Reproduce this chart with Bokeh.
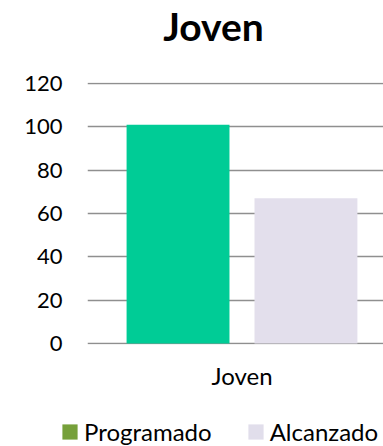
from bokeh.plotting import figure
from bokeh.models import ColumnDataSource, Legend, LegendItem, Range1d, Label, FixedTicker
from bokeh.layouts import column
from bokeh.transform import dodge
from bokeh.embed import file_html
from bokeh.resources import INLINE

title_text = "Joven"
categories = ["Joven"]
series = ["Programado", "Alcanzado"]
programado = [101]
alcanzado = [67]
y_ticks = [0, 20, 40, 60, 80, 100, 120]

bar_colors = ["#00CC96", "#E3DFEC"]
legend_colors = ["#76A03A", "#E1DEEB"]
FONT = "Lato"
W = 383

# ---- title strip ----
t = figure(width=W, height=52, x_range=Range1d(0, W), y_range=Range1d(0, 52),
           output_backend="svg", toolbar_location=None, min_border=0,
           x_axis_location=None, y_axis_location=None, frame_align=False)
t.grid.visible = False
t.outline_line_color = None
t.add_layout(Label(x=213, y=26.5, text=title_text, text_align="center", text_baseline="middle",
                   text_font=FONT, text_font_size="39px", text_font_style="bold",
                   text_color="#000000"))

# ---- main chart ----
xs = list(range(len(categories)))
src = ColumnDataSource(dict(x=xs, Programado=programado, Alcanzado=alcanzado))

p = figure(x_range=Range1d(-0.5, 0.458), y_range=Range1d(-0.5, 120.5), width=W, height=348,
           output_backend="svg", toolbar_location=None, frame_align=False,
           min_border_left=87, min_border_right=0, min_border_top=30, min_border_bottom=56)

offsets = [-0.207, 0.207]
for s, off, c in zip(series, offsets, bar_colors):
    p.vbar(x=dodge("x", off), top=s, width=0.333, source=src,
           fill_color=c, line_color=None)

p.xaxis.ticker = FixedTicker(ticks=xs)
p.xaxis.major_label_overrides = {i: c for i, c in zip(xs, categories)}
p.yaxis.ticker = y_ticks
p.ygrid.ticker = y_ticks
p.xgrid.grid_line_color = None
p.ygrid.grid_line_color = "#8F8F8F"
p.ygrid.grid_line_width = 1.6
p.yaxis.axis_line_color = None
p.yaxis.major_tick_line_color = None
p.yaxis.minor_tick_line_color = None
p.yaxis.major_tick_out = 0
p.yaxis.major_tick_in = 0
p.yaxis.minor_tick_out = 0
p.yaxis.major_label_standoff = 25
p.yaxis.major_label_text_font = FONT
p.yaxis.major_label_text_font_size = "22px"
p.yaxis.major_label_text_color = "#000000"
p.xaxis.axis_line_color = None
p.xaxis.major_tick_line_color = None
p.xaxis.minor_tick_line_color = None
p.xaxis.major_tick_out = 0
p.xaxis.major_tick_in = 0
p.xaxis.minor_tick_out = 0
p.xaxis.major_label_text_font = FONT
p.xaxis.major_label_text_font_size = "24px"
p.xaxis.major_label_text_color = "#000000"
p.xaxis.major_label_standoff = 16
p.outline_line_color = None

# ---- legend strip ----
lg = figure(width=W, height=46, x_range=Range1d(0, 1), y_range=Range1d(0, 1),
            output_backend="svg", toolbar_location=None, min_border=0,
            x_axis_location=None, y_axis_location=None, frame_align=False)
lg.grid.visible = False
lg.outline_line_color = None
items = []
for s, c in zip(series, legend_colors):
    r = lg.vbar(x=[5], bottom=[5], top=[6], width=0.1, fill_color=c, line_color=None)
    items.append(LegendItem(label=s, renderers=[r]))
legend = Legend(items=items, orientation="horizontal", location=(60, 0),
                label_text_font=FONT, label_text_font_size="24px", label_text_color="#000000",
                glyph_width=19, glyph_height=19, spacing=34, label_standoff=5,
                border_line_color=None, background_fill_alpha=0, margin=0, padding=0)
lg.add_layout(legend)

layout = column(t, p, lg, spacing=0)
open("out.html", "w").write(file_html(layout, INLINE))
